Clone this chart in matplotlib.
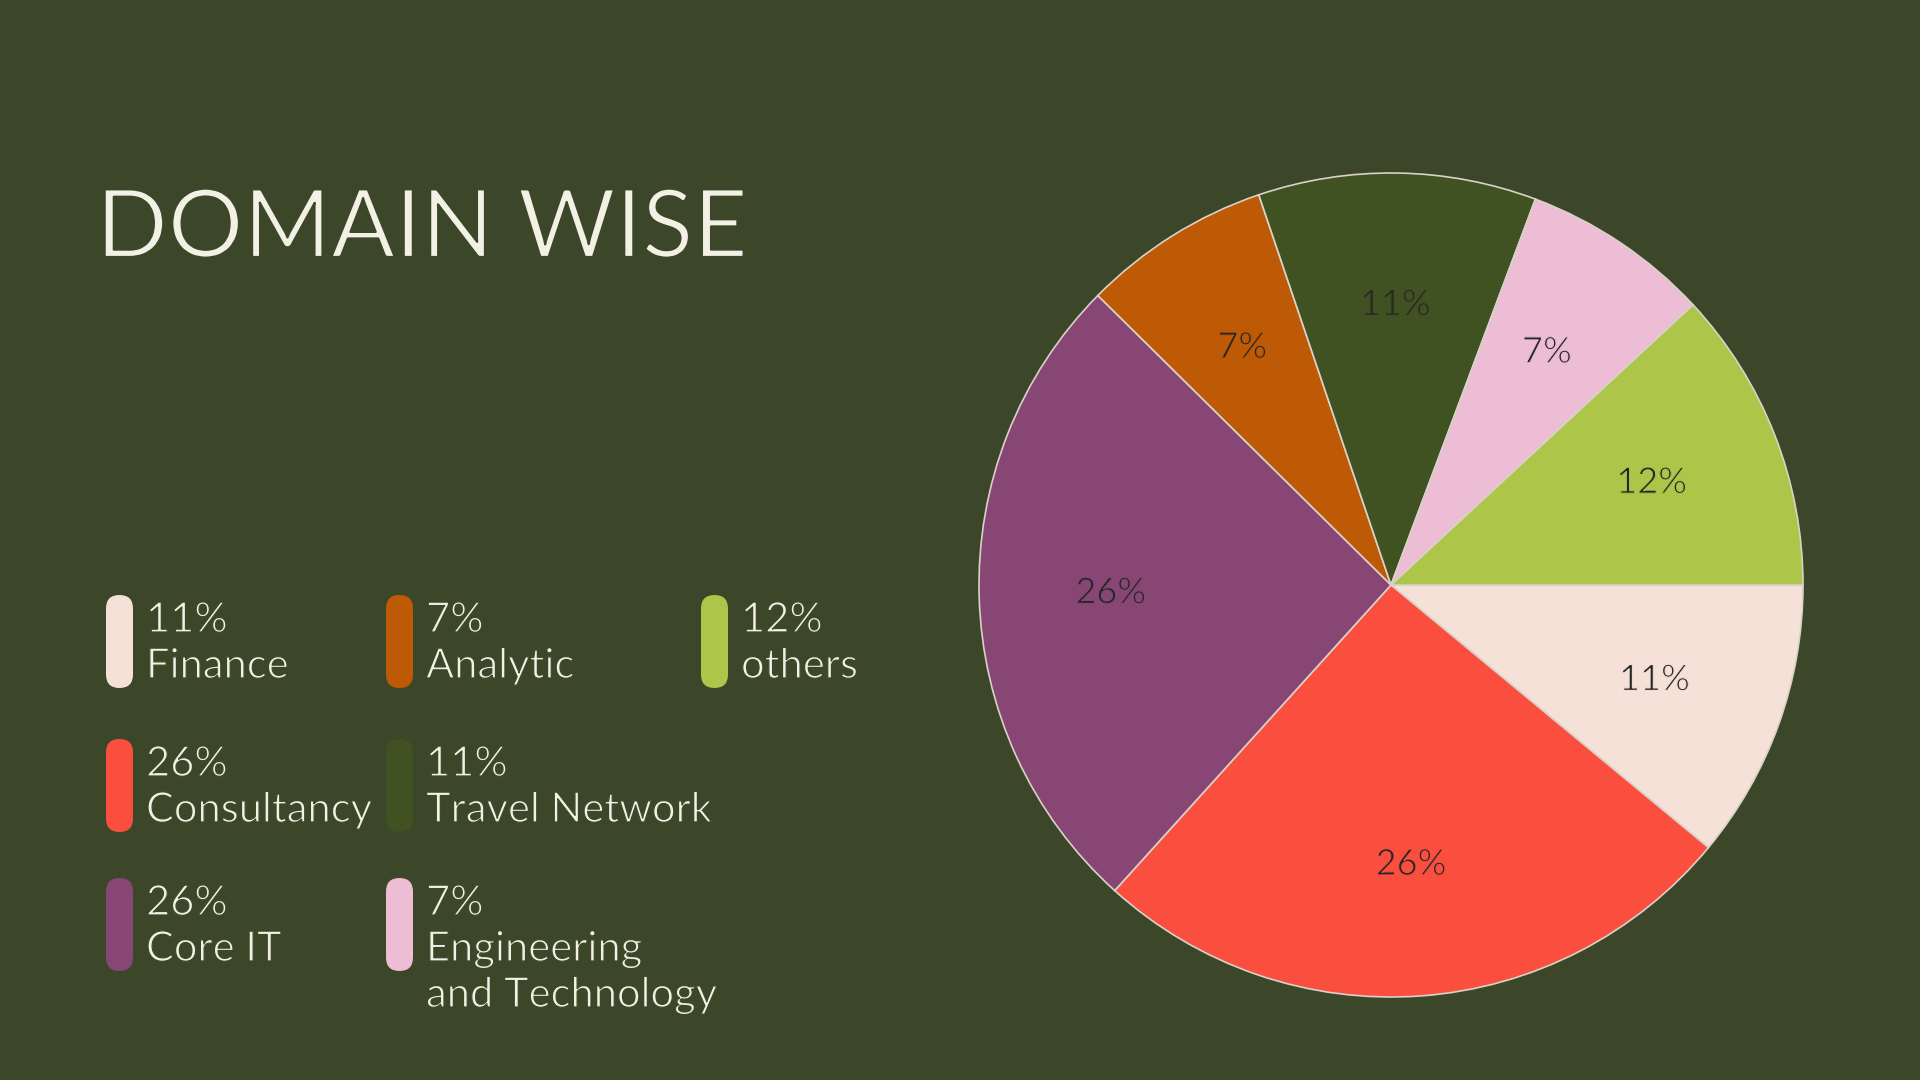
import matplotlib.pyplot as plt
import matplotlib.patheffects as pe
from matplotlib.patches import FancyBboxPatch

domains = ["Finance", "Consultancy", "Core IT", "Analytic",
           "Travel Network", "Engineering\nand Technology", "others"]
shares = [11.0, 25.7, 25.7, 7.4, 10.9, 7.4, 11.9]
colors = ["#F5E1D7", "#FA4F3F", "#874673", "#BE5A05",
          "#405122", "#ECBDD5", "#ADC549"]

bg = "#3C4628"
txt = "#F3F1E6"
plt.rcParams['font.family'] = ['Lato', 'DejaVu Sans']


def thin(under, lw=0.9):
    # erode the glyph edges a little so Lato Regular reads like Light
    return [pe.Normal(), pe.Stroke(linewidth=lw, foreground=under)]


fig = plt.figure(figsize=(19.2, 10.8), dpi=100, facecolor=bg)

# pie, centre (1391, 585) px, radius 412 px
cx, cy, r = 1391, 585, 412
ax = fig.add_axes([(cx - r) / 1920, (1080 - cy - r) / 1080, 2 * r / 1920, 2 * r / 1080])
ax.set_facecolor(bg)
wedges, texts, autotexts = ax.pie(
    shares, colors=colors, startangle=0, counterclock=False,
    autopct=lambda p: f"{p:.0f}%", pctdistance=0.68,
    wedgeprops=dict(edgecolor="#D9D2C8", linewidth=1.2),
    textprops=dict(fontsize=26, color="#262626"))
for t, c in zip(autotexts, colors):
    t.set_path_effects(thin(c, 0.8))
ax.set_xlim(-1, 1)
ax.set_ylim(-1, 1)
ax.set_aspect("equal")

# overlay in pixel coordinates for title and legend
ov = fig.add_axes([0, 0, 1, 1])
ov.set_xlim(0, 1920)
ov.set_ylim(1080, 0)
ov.axis("off")

ov.text(96, 257, "DOMAIN WISE", fontsize=68, color=txt,
        va="baseline", ha="left", path_effects=thin(bg, 1.6))

col_x = [106, 386, 701]
row_y = [595, 739, 878]
for i, (name, val, c) in enumerate(zip(domains, shares, colors)):
    x = col_x[i // 3]
    y = row_y[i % 3]
    pill = FancyBboxPatch((x, y), 27, 93,
                          boxstyle="round,pad=0,rounding_size=13.5",
                          facecolor=c, edgecolor="none")
    ov.add_patch(pill)
    lines = [f"{val:.0f}%"] + name.split("\n")
    for j, line in enumerate(lines):
        ov.text(x + 40, y + 37 + 46 * j, line, fontsize=30, color=txt,
                va="baseline", ha="left", path_effects=thin(bg, 0.9))

fig.savefig("out.png", dpi=100, facecolor=bg)
